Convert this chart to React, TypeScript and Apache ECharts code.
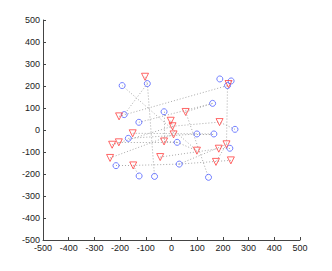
import React, { useEffect, useRef } from "react";
import * as echarts from "echarts";

const axisTicks = [-500, -400, -300, -200, -100, 0, 100, 200, 300, 400, 500];

const blueX = [-192, -94, 188, 232, 218, -184, -29, 160, -127, -168, 22, 99, 165, 247, 227, -216, 30, -126, -66, 144];
const blueY = [202, 211, 232, 223, 202, 70, 83, 121, 35, -38, -56, -18, -18, 3, -83, -162, -155, -209, -211, -215];

const redX = [-103, 222, -204, 55, -3, 4, 8, -151, -205, -231, -29, 187, 184, 214, 99, -44, -239, -149, 173, 231];
const redY = [242, 209, 62, 82, 42, 17, -20, -15, -56, -67, -52, 36, -85, -65, -94, -123, -127, -161, -145, -138];

// Edges: "B#" = blue point index (1-based), "R#" = red point index (1-based)
const edgeFrom = ["B1", "B2", "B2", "R3", "B9", "R6", "R8", "R17", "R16", "B16", "R18", "B17", "R18", "B17", "R4", "R4", "R5", "R6", "B7", "B10", "R9", "B5", "R14", "B14", "B15", "R1", "R10", "R11", "B11", "B12", "R2"];
const edgeTo = ["R15", "B6", "B19", "B5", "B8", "R12", "B13", "R7", "R13", "R18", "B17", "R20", "B18", "R14", "B20", "B8", "R6", "R7", "R11", "B12", "B11", "R14", "R19", "R12", "R13", "B2", "R6", "B11", "R15", "B13", "B4"];

function pt(id: string): [number, number] {
  const i = parseInt(id.slice(1), 10) - 1;
  return id[0] === "B" ? [blueX[i], blueY[i]] : [redX[i], redY[i]];
}

export default function App() {
  const ref = useRef<HTMLDivElement>(null);
  useEffect(() => {
    if (!ref.current) return;
    const chart = echarts.init(ref.current, undefined, { renderer: "svg" });
    const axisCommon = {
      type: "value" as const,
      min: axisTicks[0],
      max: axisTicks[axisTicks.length - 1],
      interval: 100,
      splitLine: { show: false },
      axisLine: { show: true, onZero: false, lineStyle: { color: "#444", width: 1 } },
      axisTick: { show: true, inside: true, length: 3, lineStyle: { color: "#444" } },
      axisLabel: {
        color: "#222",
        fontSize: 9,
        fontFamily: "Liberation Sans, Arial, sans-serif",
        margin: 3,
        showMinLabel: true,
        showMaxLabel: true,
      },
    };
    const edges = edgeFrom.map((f, i) => ({ coords: [pt(f), pt(edgeTo[i])] }));
    chart.setOption({
      animation: false,
      backgroundColor: "#fff",
      grid: { left: 43, right: 32, top: 20, bottom: 31, containLabel: false },
      xAxis: { ...axisCommon },
      yAxis: { ...axisCommon },
      series: [
        {
          type: "lines",
          coordinateSystem: "cartesian2d",
          data: edges,
          symbol: "none",
          lineStyle: { color: "#aaa", width: 1, type: [1, 2], opacity: 1 },
          silent: true,
          z: 1,
        },
        {
          type: "scatter",
          data: blueX.map((x, i) => [x, blueY[i]]),
          symbol: "circle",
          symbolSize: 6,
          itemStyle: { color: "rgba(0,0,0,0)", borderColor: "#5060ff", borderWidth: 1 },
          z: 3,
        },
        {
          type: "scatter",
          data: redX.map((x, i) => [x, redY[i]]),
          symbol: "triangle",
          symbolRotate: 180,
          symbolSize: 7,
          itemStyle: { color: "rgba(255,255,255,0)", borderColor: "#ff4040", borderWidth: 1 },
          z: 3,
        },
      ],
    });
    return () => chart.dispose();
  }, []);
  return (
    <div
      ref={ref}
      style={{ position: "fixed", left: 0, top: 0, width: 332, height: 271, background: "#fff" }}
    />
  );
}
